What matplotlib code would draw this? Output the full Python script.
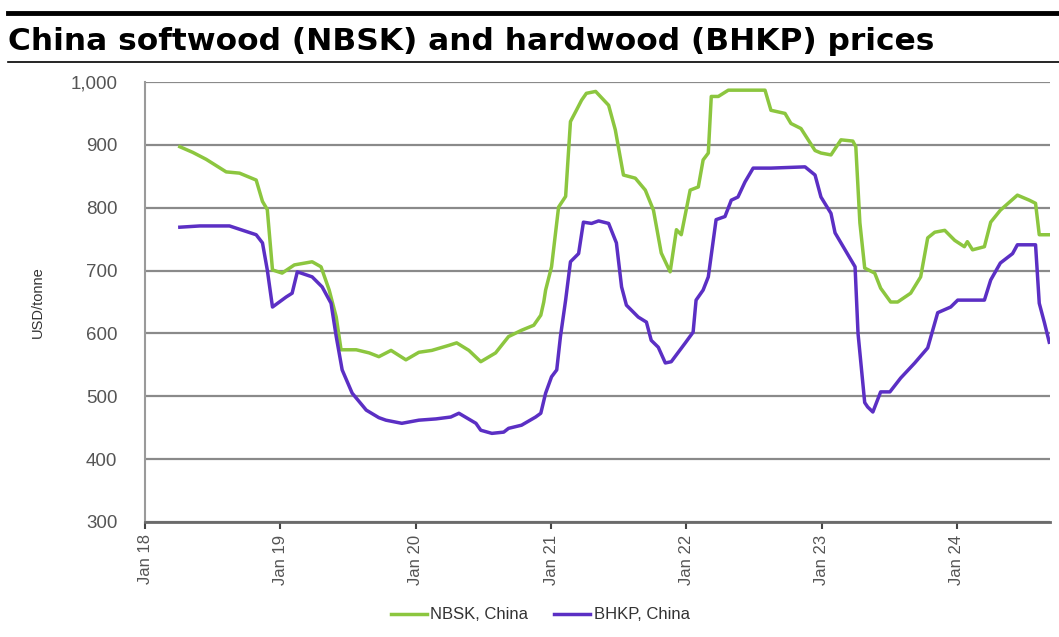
import numpy as np
import pandas as pd
import matplotlib
matplotlib.use('Agg')
import matplotlib.pyplot as plt
import matplotlib.dates as mdates
from matplotlib.lines import Line2D

#Read data
nbsk_dates = ['2018-04-05', '2018-05-10', '2018-06-15', '2018-08-08', '2018-09-13', '2018-10-28', '2018-11-14', '2018-11-27',
              '2018-12-11', '2019-01-06', '2019-02-08', '2019-03-28', '2019-04-21', '2019-05-13',
              '2019-06-01', '2019-06-14', '2019-07-25', '2019-08-29', '2019-09-24', '2019-10-27',
              '2019-12-06', '2020-01-10', '2020-02-14', '2020-03-31', '2020-04-21', '2020-05-24',
              '2020-06-25', '2020-08-04', '2020-09-08', '2020-10-13', '2020-11-15', '2020-12-04',
              '2020-12-12', '2020-12-17', '2021-01-02', '2021-01-21', '2021-02-09', '2021-02-22',
              '2021-03-10', '2021-03-24', '2021-04-06', '2021-05-01', '2021-06-05', '2021-06-23',
              '2021-07-15', '2021-08-16', '2021-09-12', '2021-10-04', '2021-10-25', '2021-11-18',
              '2021-12-05', '2021-12-18', '2022-01-11', '2022-02-02', '2022-02-15', '2022-03-01',
              '2022-03-09', '2022-03-28', '2022-04-24', '2022-08-01', '2022-08-17', '2022-09-24',
              '2022-10-10', '2022-11-06', '2022-12-14', '2022-12-30', '2023-01-26', '2023-02-22',
              '2023-03-26', '2023-04-03', '2023-04-14', '2023-04-27', '2023-05-24', '2023-06-09',
              '2023-07-06', '2023-07-25', '2023-08-29', '2023-09-25', '2023-10-14', '2023-11-02',
              '2023-11-29', '2023-12-26', '2024-01-21', '2024-01-29', '2024-02-12', '2024-03-15',
              '2024-04-01', '2024-04-27', '2024-06-12', '2024-07-14', '2024-07-31', '2024-08-10',
              '2024-09-06']
nbsk_values = [897, 888, 877, 857, 855, 844, 810, 797,
               701, 696, 709, 714, 706, 669,
               626, 574, 574, 569, 563, 573,
               558, 570, 573, 581, 585, 573,
               555, 569, 595, 605, 613, 629,
               650, 669, 706, 801, 818, 937,
               955, 971, 982, 985, 963, 924,
               852, 847, 828, 796, 728, 698,
               765, 757, 828, 833, 876, 887,
               977, 977, 987, 987, 955, 950,
               934, 926, 891, 887, 884, 908,
               906, 897, 776, 704, 696, 672,
               650, 650, 664, 690, 752, 761,
               764, 748, 738, 746, 733, 738,
               777, 796, 820, 812, 807, 757,
               757]

bhkp_dates = ['2018-04-05', '2018-05-29', '2018-08-17', '2018-10-28', '2018-11-14', '2018-11-27',
              '2018-12-11', '2019-01-17', '2019-02-02', '2019-02-16', '2019-03-28', '2019-04-24',
              '2019-05-18', '2019-06-01', '2019-06-17', '2019-07-14', '2019-08-21', '2019-09-24',
              '2019-10-13', '2019-11-25', '2020-01-10', '2020-02-25', '2020-04-05', '2020-04-27',
              '2020-06-12', '2020-06-25', '2020-07-25', '2020-08-26', '2020-09-08', '2020-10-13',
              '2020-11-20', '2020-12-04', '2020-12-17', '2021-01-02', '2021-01-16', '2021-01-26',
              '2021-02-09', '2021-02-22', '2021-03-16', '2021-03-29', '2021-04-20', '2021-05-09',
              '2021-06-05', '2021-06-26', '2021-07-10', '2021-07-23', '2021-08-24', '2021-09-15',
              '2021-09-28', '2021-10-17', '2021-11-05', '2021-11-21', '2021-12-29', '2022-01-19',
              '2022-01-27', '2022-02-15', '2022-03-01', '2022-03-22', '2022-04-15', '2022-05-02',
              '2022-05-20', '2022-06-08', '2022-06-30', '2022-08-17', '2022-11-17', '2022-12-14',
              '2022-12-30', '2023-01-26', '2023-02-06', '2023-03-05', '2023-03-21', '2023-04-01',
              '2023-04-09', '2023-04-27', '2023-05-05', '2023-05-19', '2023-06-09', '2023-07-04',
              '2023-08-02', '2023-09-09', '2023-10-14', '2023-11-10', '2023-12-15', '2024-01-03',
              '2024-03-15', '2024-04-01', '2024-04-27', '2024-05-30', '2024-06-12', '2024-07-31',
              '2024-08-10', '2024-08-24', '2024-09-06']
bhkp_values = [769, 771, 771, 757, 744, 701,
               642, 658, 664, 698, 690, 674,
               648, 595, 542, 505, 478, 466,
               462, 457, 462, 464, 467, 473,
               457, 446, 441, 443, 449, 454,
               467, 473, 505, 531, 542, 595,
               653, 714, 727, 777, 775, 779,
               775, 744, 674, 645, 626, 618,
               589, 578, 553, 555, 585, 602,
               653, 669, 690, 781, 786, 812,
               817, 841, 863, 863, 865, 852,
               817, 791, 760, 733, 717, 706,
               600, 490, 483, 475, 507, 507,
               529, 553, 577, 633, 642, 653,
               653, 685, 712, 727, 741, 741,
               648, 617, 586]

y_ticks = [300, 400, 500, 600, 700, 800, 900, 1000]
x_ticks = ['2018-01-01', '2019-01-01', '2020-01-01', '2021-01-01',
           '2022-01-01', '2023-01-01', '2024-01-01']

green = '#8cc63f'
purple = '#5b2fc4'
grey_txt = '#555555'

plt.rcParams['font.family'] = ['Liberation Sans', 'DejaVu Sans']

#Set figure sizes
pixel_width = 1059
pixel_height = 637
DPI = 100
fig = plt.figure(figsize=(pixel_width/DPI, pixel_height/DPI), dpi=DPI)
ax = fig.add_axes([145/1059, 1 - 522/637, (1050 - 145)/1059, (522 - 82)/637])

ax.plot(pd.to_datetime(nbsk_dates), nbsk_values, color=green, lw=2.5, label='NBSK, China')
ax.plot(pd.to_datetime(bhkp_dates), bhkp_values, color=purple, lw=2.5, label='BHKP, China')

ax.set_ylim(300, 1000)
ax.set_yticks(y_ticks)
ax.set_yticklabels(['{:,}'.format(v) for v in y_ticks])
ax.set_xlim(pd.Timestamp('2018-01-01'), pd.Timestamp('2024-09-08'))
ax.set_xticks(pd.to_datetime(x_ticks))
ax.xaxis.set_major_formatter(mdates.DateFormatter('Jan %y'))
ax.grid(axis='y', color='#8a8a8a', lw=1.6)
ax.set_axisbelow(True)

for s in ['top', 'right']:
    ax.spines[s].set_visible(False)
ax.spines['left'].set_color('#9a9a9a')
ax.spines['left'].set_linewidth(1.5)
ax.spines['bottom'].set_color('#6a6a6a')
ax.spines['bottom'].set_linewidth(2)

ax.tick_params(axis='y', length=0, pad=20, labelsize=13.5, labelcolor=grey_txt)
ax.tick_params(axis='x', length=5, width=1.5, color='#444444', direction='out',
               labelrotation=90, labelsize=12, labelcolor=grey_txt, pad=4)
ax.set_ylabel('USD/tonne', fontsize=10.5, color='#333333', labelpad=18)

#Title and rules
fig.text(8/1059, 1 - 42/637, 'China softwood (NBSK) and hardwood (BHKP) prices',
         fontsize=22.5, fontweight='bold', va='center', ha='left', color='black',
         family='DejaVu Sans')
fig.add_artist(Line2D([8/1059, 1], [1 - 13/637, 1 - 13/637], color='black', lw=3.5))
fig.add_artist(Line2D([8/1059, 1], [1 - 62/637, 1 - 62/637], color='black', lw=1.2))

ax.legend(loc='upper center', bbox_to_anchor=(395/905, -0.16), ncol=2, frameon=False,
          fontsize=12, handlelength=2.2, handletextpad=0.2, columnspacing=1.5,
          labelcolor='#333333')

fig.savefig('out.png', dpi=DPI)
